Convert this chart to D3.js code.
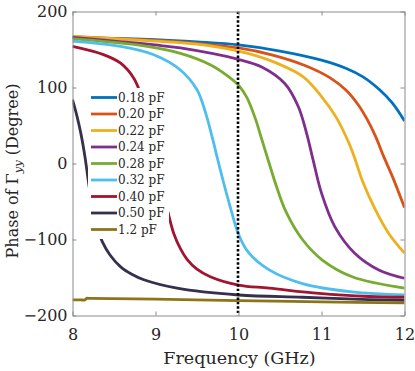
<!DOCTYPE html>
<html>
<head>
<meta charset="utf-8">
<script src="https://cdn.jsdelivr.net/npm/d3@7"></script>
<style>
  body { margin: 0; background: #fff; }
  text { font-family: "DejaVu Serif", "Liberation Serif", serif; fill: #262626; }
</style>
</head>
<body>
<svg id="chart" width="415" height="371"></svg>
<script>
// series labels and colours (same order)
var labels = ["0.18 pF", "0.20 pF", "0.22 pF", "0.24 pF", "0.28 pF", "0.32 pF", "0.40 pF", "0.50 pF", "1.2 pF"];
var colors = ["#0072BD", "#D95319", "#EDB120", "#7E2F8E", "#77AC30", "#4DBEEE", "#A2142F", "#34304D", "#8C7418"];

// phase curves: [frequency GHz, phase deg]
var c018 = [[8,166],[9,163],[9.5,160],[10,156],[10.5,148],[11,136],[11.3,125],[11.5,114],[11.7,97],[11.85,80],[12,56]];
var c020 = [[8,167],[9,162],[9.5,158],[10,152],[10.4,143],[10.8,129],[11.1,113],[11.3,96],[11.45,76],[11.55,58],[11.65,36],[11.75,9],[11.85,-16],[11.93,-38],[12,-58]];
var c022 = [[8,167],[9,161],[9.5,157],[10,148],[10.37,136],[10.78,114],[11,88],[11.17,62],[11.33,27],[11.41,4],[11.49,-22],[11.65,-61],[11.81,-92],[12,-118]];
var c024 = [[8,166],[9,156],[9.3,152],[10,137],[10.28,127],[10.56,105],[10.72,75],[10.82,40],[10.9,4],[11,-39],[11.16,-83],[11.4,-118],[11.69,-140],[12,-151]];
var c028 = [[8,164],[8.78,156],[9.3,145],[9.66,130],[9.86,116],[10,103],[10.1,87],[10.2,60],[10.28,32],[10.37,0],[10.46,-31],[10.57,-63],[10.77,-100],[11.01,-127],[11.37,-149],[12,-164]];
var c032 = [[8,161],[8.58,154],[8.98,143],[9.3,123],[9.5,97],[9.6,68],[9.68,36],[9.75,5],[9.82,-25],[9.9,-57],[10,-93],[10.12,-117],[10.37,-140],[10.77,-158],[11.37,-169],[12,-173]];
var c040 = [[8,154],[8.38,143],[8.58,132],[8.74,112],[8.82,92],[8.9,64],[8.97,30],[9.03,-5],[9.09,-36],[9.15,-64],[9.22,-92],[9.3,-112],[9.38,-126],[9.5,-139],[9.66,-149],[10,-160],[10.37,-164],[10.97,-171],[11.57,-175],[12,-176]];
var c050 = [[8,84],[8.05,64],[8.1,40],[8.15,9],[8.2,-30],[8.25,-63],[8.3,-86],[8.36,-103],[8.45,-120],[8.58,-136],[8.72,-146],[8.86,-153],[9.26,-164],[10,-173],[10.77,-176],[11.57,-179],[12,-180]];
var c120 = [[8,-179.5],[8.1,-179.5],[8.15,-179.5],[8.17,-177.5],[8.22,-177.5],[8.5,-177.9],[9,-178.5],[10,-180.5],[11,-182],[12,-183.5]];

var series = [c018, c020, c022, c024, c028, c032, c040, c050, c120];

var xTicks = [8, 9, 10, 11, 12];
var yTicks = [-200, -100, 0, 100, 200];
var markerFreq = 10;

var svg = d3.select("#chart");

var x = d3.scaleLinear().domain([8, 12]).range([72.5, 404.5]);
var y = d3.scaleLinear().domain([-200, 200]).range([315.5, 11.5]);

svg.append("clipPath").attr("id", "plotclip")
  .append("rect")
  .attr("x", x(8)).attr("y", y(200))
  .attr("width", x(12) - x(8)).attr("height", y(-200) - y(200));

// curves
var line = d3.line()
  .x(function(d) { return x(d[0]); })
  .y(function(d) { return y(d[1]); })
  .curve(d3.curveCatmullRom.alpha(0.5));

var plot = svg.append("g").attr("clip-path", "url(#plotclip)");

plot.selectAll("path.curve")
  .data(series)
  .enter()
  .append("path")
  .attr("class", "curve")
  .attr("d", line)
  .attr("fill", "none")
  .attr("stroke", function(d, i) { return colors[i]; })
  .attr("stroke-width", 2.8);

// dotted marker at 10 GHz
plot.append("line")
  .attr("x1", x(markerFreq) - 0.5).attr("x2", x(markerFreq) - 0.5)
  .attr("y1", y(200)).attr("y2", y(-200))
  .attr("stroke", "#000")
  .attr("stroke-width", 2.6)
  .attr("stroke-dasharray", "2.4,2");

// axes, ticks pointing inwards
function styleAxis(g) {
  g.selectAll("path.domain").attr("stroke", "#8a8a8a");
  g.selectAll(".tick line").attr("stroke", "#8a8a8a");
  g.selectAll("text").attr("fill", "#262626")
    .style("font-family", '"DejaVu Serif", serif').style("font-size", "16px");
}

svg.append("g")
  .attr("transform", "translate(0," + y(-200) + ")")
  .call(d3.axisBottom(x).tickValues(xTicks).tickFormat(d3.format("d"))
    .tickSizeInner(-4).tickSizeOuter(0).tickPadding(13))
  .call(styleAxis);

svg.append("g")
  .attr("transform", "translate(" + x(8) + ",0)")
  .call(d3.axisLeft(y).tickValues(yTicks).tickFormat(d3.format("d"))
    .tickSizeInner(-4).tickSizeOuter(0).tickPadding(5))
  .call(styleAxis);

svg.append("g")
  .attr("transform", "translate(0," + y(200) + ")")
  .call(d3.axisTop(x).tickValues(xTicks).tickFormat("")
    .tickSizeInner(-4).tickSizeOuter(0))
  .call(styleAxis);

svg.append("g")
  .attr("transform", "translate(" + x(12) + ",0)")
  .call(d3.axisRight(y).tickValues(yTicks).tickFormat("")
    .tickSizeInner(-4).tickSizeOuter(0))
  .call(styleAxis);

// axis titles
svg.append("text")
  .attr("x", 239.5).attr("y", 364)
  .attr("text-anchor", "middle")
  .style("font-size", "17.5px")
  .text("Frequency (GHz)");

var yl = svg.append("text")
  .attr("transform", "translate(18,171) rotate(-90)")
  .attr("text-anchor", "middle")
  .style("font-size", "16px");
yl.append("tspan").text("Phase of \u0393");
yl.append("tspan").attr("font-style", "italic").attr("font-size", "11.5px").attr("dy", 4).text("yy");
yl.append("tspan").attr("dy", -4).text(" (Degree)");

// legend with white box
var legend = svg.append("g");
legend.append("rect")
  .attr("x", 88).attr("y", 88)
  .attr("width", 81).attr("height", 151)
  .attr("fill", "#fff");

var items = legend.selectAll("g.item")
  .data(labels)
  .enter()
  .append("g")
  .attr("class", "item")
  .attr("transform", function(d, i) { return "translate(0," + (97.5 + i * 16.5) + ")"; });

items.append("line")
  .attr("x1", 91).attr("x2", 117)
  .attr("stroke", function(d, i) { return colors[i]; })
  .attr("stroke-width", 2.8);

items.append("text")
  .attr("x", 118).attr("dy", "0.35em")
  .style("font-size", "12px")
  .text(function(d) { return d; });
</script>
</body>
</html>
